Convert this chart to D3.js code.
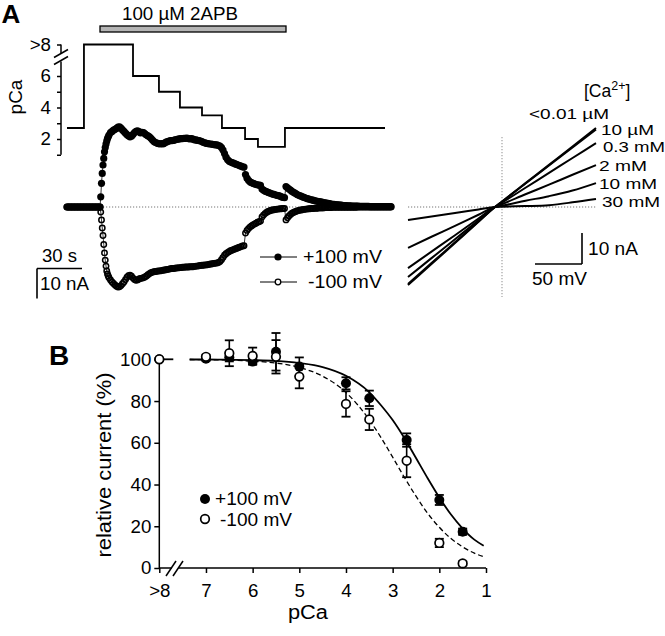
<!DOCTYPE html>
<html><head><meta charset="utf-8">
<script src="https://cdn.jsdelivr.net/npm/d3@7/dist/d3.min.js"></script>
<style>
body{margin:0;background:#fff}
text{font-family:Arial,"Liberation Sans",Helvetica,sans-serif;fill:#000}
</style>
</head><body>
<svg id="c" width="665" height="636"></svg>
<script>
// ---------------- Panel A: perfusion protocol ----------------
const drugLabel = "100 µM 2APB";
const drugWindow = [22, 146];                       // s
const stepTimes = [0, 11.3, 44, 61.3, 75.3, 90, 103.3, 118.7, 127.3, 145.3, 212];
const stepPCa   = [2.7, 8, 6, 5, 4, 3.5, 2.7, 2, 1.5, 2.7, 2.7];
const pcaTicksA = [8, 6, 5, 4, 3, 2, 1];
const pcaTickLabelsA = {8: ">8", 6: "6", 4: "4", 2: "2"};

// ---------------- Panel A: current time course (nA) ----------------
const traceTimes = [...d3.range(0, 22.5, 1), ...d3.range(22.5, 28.5, 0.5), ...d3.range(29, 217, 1)];
const currentPos = [
 0,0,0,0,0,0,0,0,0,0,0,0,0,0,0,0,0,0,0,0,0,0,0,
 3.4,7.9,11.2,14.0,16.2,18.4,19.8,21.0,22.0,22.8,23.4,24.0,
 24.8,25.2,25.6,25.9,26.2,26.6,26.7,26.3,25.7,25.2,
 24.6,24.1,23.7,23.4,23.6,24.2,24.8,25.2,25.4,25.1,
 24.7,24.9,24.8,24.4,24.0,23.7,23.4,22.9,22.3,21.8,
 21.5,21.3,21.1,21.0,21.1,21.0,21.3,21.6,21.8,22.0,
 22.1,22.1,22.2,22.4,22.5,22.6,22.7,22.8,22.8,22.9,
 22.9,23.0,22.8,22.7,22.8,22.6,22.4,22.4,22.2,22.1,
 22.0,21.8,21.5,21.4,21.2,21.1,21.0,21.0,20.9,20.8,
 20.7,20.7,20.5,20.3,19.8,19.0,17.8,16.6,15.8,15.3,
 15.0,14.8,14.6,14.4,14.2,14.0,13.8,13.6,13.4,13.3,
 10.8,9.6,8.9,8.4,8.1,7.9,7.7,7.5,7.4,7.3,
 7.2,6.0,5.6,5.3,5.1,4.9,4.7,4.5,4.3,4.2,
 4.0,3.9,3.8,3.6,3.4,3.2,3.1,6.8,6.4,6.0,
 5.6,5.2,4.9,4.6,4.3,4.0,3.8,3.6,3.4,3.2,
 3.0,2.8,2.7,2.5,2.4,2.3,2.1,2.0,1.9,1.8,
 1.7,1.6,1.5,1.4,1.3,1.2,1.1,1.0,0.9,0.9,
 0.8,0.7,0.7,0.6,0.6,0.5,0.5,0.5,0.4,0.4,
 0.4,0.3,0.3,0.3,0.3,0.3,0.2,0.2,0.2,0.2,
 0.2,0.2,0.2,0.1,0.1,0.1,0.1,0.1,0.1,0.1,
 0.1,0.1,0.1,0.1,0.1,0.1,0.1,0.1
];
const currentNeg = [
 0,0,0,0,0,0,0,0,0,0,0,0,0,0,0,0,0,0,0,0,0,0,0,
 -1.7,-4.3,-7.0,-9.5,-12.5,-15.3,-17.7,-19.7,-21.3,-22.3,-23.0,-23.6,
 -24.3,-25.0,-25.5,-26.0,-26.4,-26.7,-26.6,-26.2,-25.6,-25.0,
 -24.2,-23.4,-22.9,-22.7,-23.1,-23.7,-24.2,-24.4,-24.3,-24.0,
 -23.8,-23.7,-23.6,-23.3,-23.0,-22.6,-22.2,-21.9,-21.7,-21.6,
 -21.5,-21.4,-21.3,-21.3,-21.2,-21.1,-21.0,-20.9,-20.8,-20.7,
 -20.6,-20.5,-20.5,-20.4,-20.3,-20.3,-20.2,-20.2,-20.1,-20.1,
 -20.0,-20.0,-20.0,-19.9,-19.9,-19.9,-19.8,-19.7,-19.7,-19.6,
 -19.5,-19.4,-19.4,-19.3,-19.3,-19.2,-19.1,-19.0,-18.9,-18.8,
 -18.7,-18.7,-18.5,-18.2,-17.6,-16.8,-16.1,-15.6,-15.2,-14.9,
 -14.6,-14.4,-14.2,-14.0,-13.8,-13.6,-13.4,-13.2,-13.0,-12.9,
 -8.7,-7.8,-7.2,-6.7,-6.3,-6.0,-5.7,-5.4,-5.1,-4.9,
 -4.7,-3.3,-2.7,-2.2,-1.8,-1.5,-1.3,-1.1,-1.0,-0.9,
 -0.8,-0.7,-0.7,-0.6,-0.6,-0.5,-0.5,-4.3,-3.6,-3.0,
 -2.5,-2.1,-1.8,-1.6,-1.4,-1.2,-1.1,-1.0,-0.9,-0.8,
 -0.7,-0.7,-0.6,-0.6,-0.5,-0.5,-0.4,-0.4,-0.4,-0.3,
 -0.3,-0.3,-0.3,-0.2,-0.2,-0.2,-0.2,-0.2,-0.1,-0.1,
 -0.1,-0.1,-0.1,-0.1,-0.1,-0.1,-0.1,-0.1,-0.1,-0.1,
 -0.1,-0.1,-0.1,-0.1,-0.1,0,0,0,0,0,
 0,0,0,0,0,0,0,0,0,0,
 0,0,0,0,0,0,0,0
];
const traceLegend = ["+100 mV", "-100 mV"];

// ---------------- Panel A: I-V relations ----------------
const ivVolts = [-100, -75, -50, -25, -7.5, 0, 25, 50, 75, 100];
const ivLabels = ["<0.01 µM", "10 µM", "0.3 mM", "2 mM", "10 mM", "30 mM"];
const ivCa0    = [-25.2,-18.4,-11.6,-4.8,0,1.8,7.7,13.6,19.5,25.5];
const ivCa10uM = [-24.8,-18.1,-11.4,-4.7,0,1.7,7.6,13.4,19.2,25.0];
const ivCa03mM = [-22.6,-16.5,-10.4,-4.3,0,1.4,6.2,11.0,15.8,20.6];
const ivCa2mM  = [-19.7,-14.4,-9.1,-3.7,0,0.9,4.1,7.2,10.4,13.5];
const ivCa10mM = [-13.2,-9.6,-6.1,-2.5,0,0.4,2.0,3.5,5.3,7.7];
const ivCa30mM = [-4.2,-3.1,-1.9,-0.8,0,0.1,0.3,0.6,1.5,2.6];

// ---------------- Panel B: dose-response ----------------
const pcaB      = [8, 7, 6.5, 6, 5.5, 5, 4, 3.5, 2.7, 2, 1.5];
const posMean   = [100, 100.3, 101, 98.9, 103.6, 96.5, 88.5, 81.3, 61.3, 32.6, 17.4];
const posErr    = [0, 1, 2, 1.5, 9, 4.4, 2.9, 3.7, 3.2, 2.4, 1.5];
const negMean   = [100, 101.2, 102.9, 101.6, 101.2, 91.7, 78.6, 71.2, 51.4, 12.0, 2.2];
const negErr    = [0, 1, 6.2, 4, 8, 5.6, 6.1, 5.1, 7.9, 2, 1];
const fitPCaPre = [8, 7.7];
const fitPre    = [100, 100];
const fitPCa    = [7.35, 7, 6.5, 6, 5.5, 5, 4.5, 4, 3.5, 3.25, 3, 2.75, 2.5, 2.25, 2, 1.75, 1.5, 1.25, 1.05];
const fitPos    = [99.9, 99.9, 99.8, 99.6, 99.2, 98.2, 96.3, 92.1, 84.2, 78.0, 70.9, 62.3, 52.7, 43.0, 33.8, 25.6, 18.9, 13.6, 10.7];
const fitNeg    = [99.9, 99.8, 99.6, 99.1, 98.2, 96.1, 91.9, 84.1, 71.0, 62.5, 53.1, 43.5, 34.4, 26.2, 19.5, 14.1, 10.1, 7.1, 5.4];
const yTicksB   = [0, 20, 40, 60, 80, 100];
const xTicksB   = [8, 7, 6, 5, 4, 3, 2, 1];

// =====================================================================
const svg = d3.select("#c");
svg.append("rect").attr("width", 665).attr("height", 636).attr("fill", "#fff");
const FS = 18.7;
function txt(g, x, y, s, o = {}) {
  const t = g.append("text").attr("x", x).attr("y", y).text(s)
    .attr("font-size", o.fs || FS).attr("text-anchor", o.anchor || "start");
  if (o.bold) t.attr("font-weight", "bold");
  if (o.len) t.attr("textLength", o.len).attr("lengthAdjust", "spacingAndGlyphs");
  if (o.rot) t.attr("transform", `rotate(-90,${x},${y})`);
  return t;
}
function seg(g, x1, y1, x2, y2, w = 1.5, col = "#000") {
  return g.append("line").attr("x1", x1).attr("y1", y1).attr("x2", x2).attr("y2", y2)
    .attr("stroke", col).attr("stroke-width", w);
}

// ---------- Panel A ----------
const gA = svg.append("g");
txt(gA, 1.5, 23, "A", {fs: 26, bold: true});

const tX = d3.scaleLinear().domain([0, 217]).range([67, 392.5]);
const iY = d3.scaleLinear().domain([-10, 10]).range([237, 177]);
const pY = d3.scaleLinear().domain([8, 1]).range([44.5, 154.75]);

// drug bar
gA.append("rect").attr("x", tX(drugWindow[0])).attr("y", 26)
  .attr("width", tX(drugWindow[1]) - tX(drugWindow[0])).attr("height", 6)
  .attr("fill", "#b4b4b4").attr("stroke", "#000").attr("stroke-width", 1.3);
txt(gA, 180, 20, drugLabel, {anchor: "middle", len: 116});

// pCa axis
const pAx = gA.append("g").attr("transform", "translate(61,0)")
  .call(d3.axisLeft(pY).tickValues(pcaTicksA).tickSize(4).tickPadding(6)
        .tickFormat(d => pcaTickLabelsA[d] || ""));
pAx.select(".domain").remove();
pAx.selectAll(".tick line").attr("stroke-width", 1.5);
pAx.selectAll(".tick text").attr("font-size", FS).attr("font-family", null);
seg(gA, 61, pY(8), 61, 53);
seg(gA, 61, 61.5, 61, pY(1));
seg(gA, 54, 57.5, 68, 49.5, 1.6);
seg(gA, 54, 64.5, 68, 56.5, 1.6);
txt(gA, 22, 97, "pCa", {anchor: "middle", rot: true, fs: 19});

gA.append("path")
  .attr("d", d3.line().x((d, i) => tX(stepTimes[i])).y(d => pY(d)).curve(d3.curveStepAfter)(stepPCa))
  .attr("fill", "none").attr("stroke", "#000").attr("stroke-width", 1.8);

// zero line
seg(gA, tX(0), iY(0), tX(217), iY(0), 1.1, "#777").attr("stroke-dasharray", "1.2,1.8");

const lineT = d3.line().x((d, i) => tX(traceTimes[i])).y(d => iY(d));
// -100 mV (open)
gA.append("path").attr("d", lineT(currentNeg)).attr("fill", "none").attr("stroke", "#000").attr("stroke-width", 0.8);
gA.append("g").selectAll("circle").data(currentNeg).join("circle")
  .attr("cx", (d, i) => tX(traceTimes[i])).attr("cy", d => iY(d)).attr("r", 2.7)
  .attr("fill", "none").attr("stroke", "#000").attr("stroke-width", 1.5);
// +100 mV (filled)
gA.append("path").attr("d", lineT(currentPos)).attr("fill", "none").attr("stroke", "#000").attr("stroke-width", 0.8);
gA.append("g").selectAll("circle").data(currentPos).join("circle")
  .attr("cx", (d, i) => tX(traceTimes[i])).attr("cy", d => iY(d)).attr("r", 3.6).attr("fill", "#000");

// scale bars (time / current)
const sb0 = 37, sbY = 268.5;
seg(gA, sb0, sbY, sb0 + (tX(30) - tX(0)), sbY, 1.6);
seg(gA, sb0, sbY, sb0, sbY + (iY(0) - iY(10)), 1.6);
txt(gA, 42, 262, "30 s", {len: 35});
txt(gA, 40, 290, "10 nA", {len: 49});

// trace legend
seg(gA, 260, 257, 297, 257, 1);
gA.append("circle").attr("cx", 278).attr("cy", 257).attr("r", 3.6).attr("fill", "#000");
txt(gA, 303, 263, traceLegend[0], {len: 79});
seg(gA, 260, 282, 297, 282, 1);
gA.append("circle").attr("cx", 278).attr("cy", 282).attr("r", 2.8).attr("fill", "#fff").attr("stroke", "#000").attr("stroke-width", 1.3);
txt(gA, 308, 288, traceLegend[1], {len: 74});

// ---------- I-V ----------
const vX = d3.scaleLinear().domain([-100, 100]).range([408, 596]);
const vY = d3.scaleLinear().domain([-10, 10]).range([238, 176]);
seg(gA, vX(-100), vY(0), vX(100), vY(0), 1.1, "#777").attr("stroke-dasharray", "1.2,1.8");
seg(gA, vX(0), 137, vX(0), 297, 1.1, "#999").attr("stroke-dasharray", "1.2,1.8");
const ivSeries = [ivCa0, ivCa10uM, ivCa03mM, ivCa2mM, ivCa10mM, ivCa30mM];
const lineIV = d3.line().x((d, i) => vX(ivVolts[i])).y(d => vY(d)).curve(d3.curveMonotoneX);
ivSeries.forEach(s => {
  gA.append("path").attr("d", lineIV(s)).attr("fill", "none").attr("stroke", "#000").attr("stroke-width", 2);
});
const capT = gA.append("text").attr("x", 584).attr("y", 97).attr("font-size", 17.5);
capT.append("tspan").text("[Ca");
capT.append("tspan").text("2+").attr("font-size", 12.5).attr("dy", -7);
capT.append("tspan").text("]").attr("dy", 7);
const ivLabelX = [529, 601, 603, 599, 599, 602];
const ivLabelY = [119, 135, 152, 171, 189, 207];
const ivLabelLens = [80, 53, 62, 48, 58, 58];
ivLabels.forEach((s, k) => {
  txt(gA, ivLabelX[k], ivLabelY[k], s, {len: ivLabelLens[k], fs: 15.5});
});
// I-V scale bars
const ivSbX = 582, ivSbY = 264;
seg(gA, ivSbX - (vX(50) - vX(0)), ivSbY, ivSbX, ivSbY, 1.6);
seg(gA, ivSbX, ivSbY, ivSbX, ivSbY - (vY(0) - vY(10)), 1.6);
txt(gA, 588, 255, "10 nA", {len: 50});
txt(gA, 532, 285, "50 mV", {len: 55});

// ---------- Panel B ----------
const gB = svg.append("g");
txt(gB, 49, 365, "B", {fs: 28, bold: true});
const bX = d3.scaleLinear().domain([8, 1]).range([159.3, 486]);
const bY = d3.scaleLinear().domain([0, 100]).range([568, 359.3]);

const yAx = gB.append("g").attr("transform", `translate(${bX(8)},0)`)
  .call(d3.axisLeft(bY).tickValues(yTicksB).tickSize(5).tickPadding(3));
yAx.select(".domain").remove();
yAx.selectAll(".tick line").attr("stroke-width", 1.5);
yAx.selectAll(".tick text").attr("font-size", FS).attr("font-family", null);
seg(gB, bX(8), bY(0), bX(8), bY(100));

const xAx = gB.append("g").attr("transform", `translate(0,${bY(0)})`)
  .call(d3.axisBottom(bX).tickValues(xTicksB).tickSize(5).tickPadding(11)
        .tickFormat(d => d === 8 ? ">8" : d));
xAx.select(".domain").remove();
xAx.selectAll(".tick line").attr("stroke-width", 1.5);
xAx.selectAll(".tick text").attr("font-size", FS).attr("font-family", null);
seg(gB, bX(8), bY(0), 172, bY(0));
seg(gB, 178.5, bY(0), bX(1), bY(0));
seg(gB, 166, 576, 176, 561, 1.5);
seg(gB, 173, 576, 183, 561, 1.5);

txt(gB, 308, 619, "pCa", {anchor: "middle", fs: 19.5, len: 40});
txt(gB, 111, 465, "relative current (%)", {anchor: "middle", rot: true, fs: 19.5, len: 185});

// fits
const lineFit = (xs) => d3.line().x((d, i) => bX(xs[i])).y(d => bY(d)).curve(d3.curveMonotoneX);
gB.append("path").attr("d", lineFit(fitPCaPre)(fitPre)).attr("fill", "none").attr("stroke", "#000").attr("stroke-width", 1.8);
gB.append("path").attr("d", lineFit(fitPCa)(fitNeg)).attr("fill", "none").attr("stroke", "#000")
  .attr("stroke-width", 1.3).attr("stroke-dasharray", "5,3");
gB.append("path").attr("d", lineFit(fitPCa)(fitPos)).attr("fill", "none").attr("stroke", "#000").attr("stroke-width", 1.8);

// error bars
function errBars(means, errs) {
  means.forEach((m, i) => {
    if (!errs[i]) return;
    const x = bX(pcaB[i]);
    seg(gB, x, bY(m - errs[i]), x, bY(m + errs[i]), 1.6);
    seg(gB, x - 4.5, bY(m + errs[i]), x + 4.5, bY(m + errs[i]), 1.8);
    seg(gB, x - 4.5, bY(m - errs[i]), x + 4.5, bY(m - errs[i]), 1.8);
  });
}
errBars(posMean, posErr);
errBars(negMean, negErr);
gB.append("g").selectAll("circle").data(posMean).join("circle")
  .attr("cx", (d, i) => bX(pcaB[i])).attr("cy", d => bY(d)).attr("r", 5).attr("fill", "#000");
gB.append("g").selectAll("circle").data(negMean).join("circle")
  .attr("cx", (d, i) => bX(pcaB[i])).attr("cy", d => bY(d)).attr("r", 4.3)
  .attr("fill", "#fff").attr("stroke", "#000").attr("stroke-width", 1.7);

// legend B
gB.append("circle").attr("cx", 205).attr("cy", 499).attr("r", 5).attr("fill", "#000");
txt(gB, 215, 505, traceLegend[0], {len: 77});
gB.append("circle").attr("cx", 205).attr("cy", 519).attr("r", 4.3).attr("fill", "#fff").attr("stroke", "#000").attr("stroke-width", 1.7);
txt(gB, 220, 526, traceLegend[1], {len: 72});
</script>
</body></html>
